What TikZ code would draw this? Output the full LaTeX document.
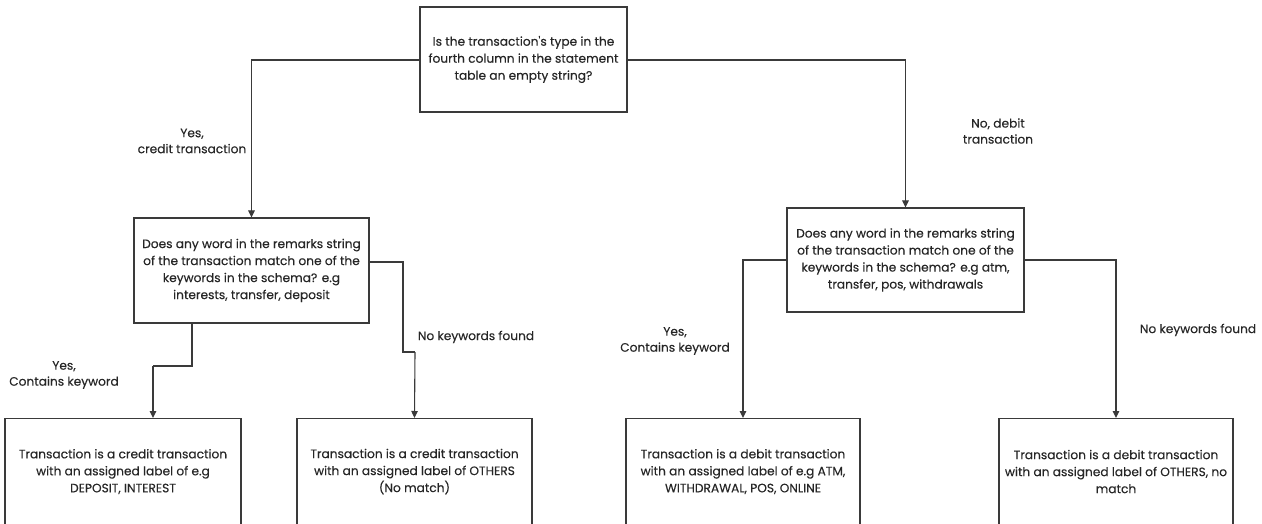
\documentclass[tikz,border=0pt]{standalone}
\usepackage{fontspec}
\setmainfont{Poppins}
\newfontfamily\diagfont[FakeBold=0.2]{Poppins}
\usetikzlibrary{arrows.meta}
\definecolor{ink}{HTML}{262626}
\definecolor{edge}{HTML}{3A3A3A}
\tikzset{
  box/.style={draw=edge, line width=1.1pt, fill=white, rectangle, inner sep=0pt,
    align=center, text=ink, font=\diagfont\fontsize{12.2}{17}\selectfont},
  lbl/.style={align=center, text=ink, font=\diagfont\fontsize{12.2}{16}\selectfont, inner sep=0pt},
  link/.style={draw=edge, line width=1.1pt, -{Triangle[length=7pt,width=6.5pt]}},
  plain/.style={draw=edge, line width=1.1pt}
}
\begin{document}
\begin{tikzpicture}[x=1pt,y=-1pt]
\useasboundingbox (0,0) rectangle (1262,524);
\clip (0,0) rectangle (1262,524);

% decision nodes
\node[box, minimum width=207, minimum height=105] (q0) at (523.5,59.5)
  {Is the transaction{\char"0027}s type in the\\fourth column in the statement\\table an empty string?};
\node[box, minimum width=235, minimum height=105] (q1) at (251.5,270.5)
  {Does any word in the remarks string\\of the transaction match one of the\\keywords in the schema? e.g\\interests, transfer, deposit};
\node[box, minimum width=237, minimum height=104] (q2) at (905.5,260)
  {Does any word in the remarks string\\of the transaction match one of the\\keywords in the schema? e.g atm,\\transfer, pos, withdrawals};

% outcome nodes (they run past the lower edge)
\node[box, minimum width=236, minimum height=106, anchor=north] (r1) at (123,418)
  {Transaction is a credit transaction\\with an assigned label of e.g\\DEPOSIT, INTEREST};
\node[box, minimum width=235, minimum height=106, anchor=north] (r2) at (414.5,418)
  {Transaction is a credit transaction\\with an assigned label of OTHERS\\(No match)};
\node[box, minimum width=234, minimum height=106, anchor=north] (r3) at (743,418)
  {Transaction is a debit transaction\\with an assigned label of e.g ATM,\\WITHDRAWAL, POS, ONLINE};
\node[box, minimum width=234, minimum height=106, anchor=north] (r4) at (1116,418)
  {Transaction is a debit transaction\\with an assigned label of OTHERS, no\\match};

% branch labels
\node[lbl] (l0) at (192,141) {Yes,\\credit transaction};
\node[lbl] (l1) at (998,131) {No, debit\\transaction};
\node[lbl] (l2) at (64,375) {Yes,\\Contains keyword};
\node[lbl] (l3) at (476,337) {No keywords found};
\node[lbl] (l4) at (675,341) {Yes,\\Contains keyword};
\node[lbl] (l5) at (1198,330) {No keywords found};

% routing points
\coordinate (a1) at (192,323);
\coordinate (a2) at (192,366);
\coordinate (a3) at (153,366);
\coordinate (b1) at (403,262);
\coordinate (b2) at (403,352);
\coordinate (b3) at (415,352);

% connectors
\draw[link] (q0.west |- 0,60) -| (q1.north);
\draw[link] (q0.east |- 0,60) -| (q2.north);
\draw[plain] (a1) -- (a2) -- (a3);
\draw[link] (a3) -- (a3 |- r1.north);
\draw[plain] (q1.east |- b1) -- (b1) -- (b2) -- (b3);
\draw[link] (b3) -- (r2.north);
\draw[link] (q2.west) -| (r3.north);
\draw[link] (q2.east) -| (r4.north);
\end{tikzpicture}
\end{document}
